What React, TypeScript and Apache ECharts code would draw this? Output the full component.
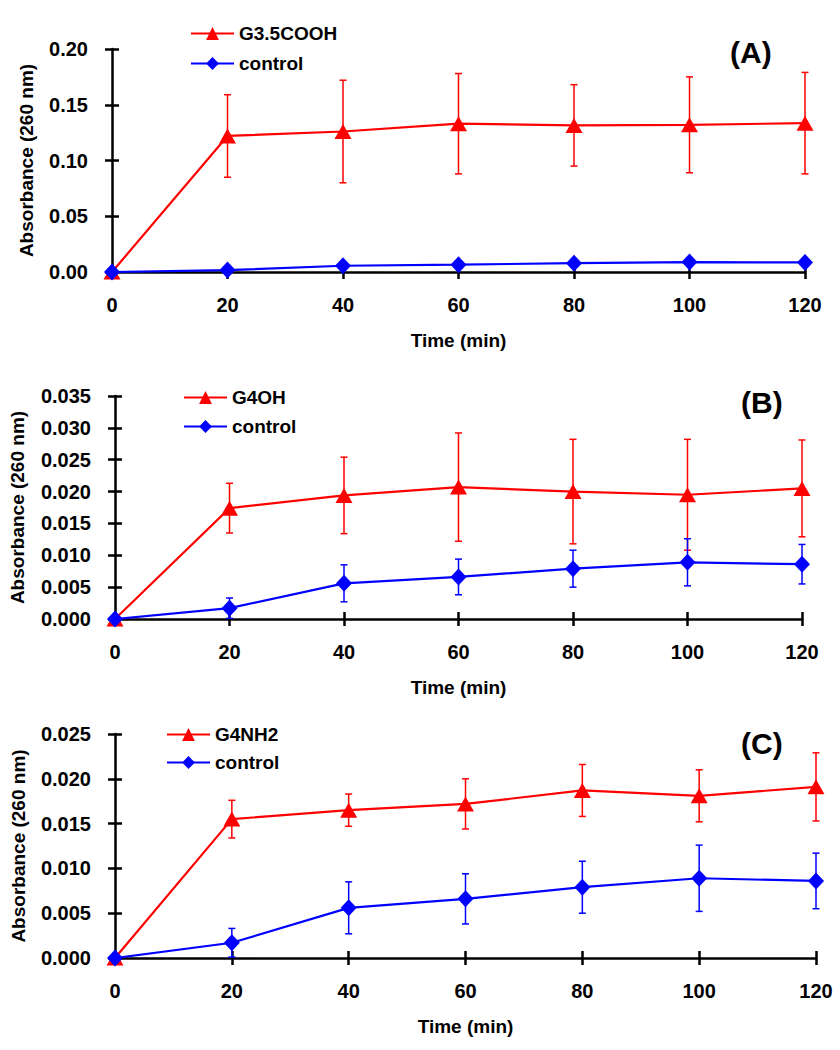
import React, { useEffect, useRef } from "react";
import * as echarts from "echarts";

// ---- data ----
const times = [0, 20, 40, 60, 80, 100, 120];

const g35coohName = "G3.5COOH";
const g35cooh = [0, 0.122, 0.126, 0.133, 0.1315, 0.132, 0.1335];
const g35coohErr = [0, 0.037, 0.046, 0.045, 0.0365, 0.043, 0.0455];

const g4ohName = "G4OH";
const g4oh = [0, 0.0174, 0.0194, 0.0207, 0.02, 0.0195, 0.0205];
const g4ohErr = [0, 0.0039, 0.006, 0.0085, 0.0082, 0.0087, 0.0076];

const g4nh2Name = "G4NH2";
const g4nh2 = [0, 0.0155, 0.0165, 0.0172, 0.0187, 0.0181, 0.0191];
const g4nh2Err = [0, 0.0021, 0.0018, 0.0028, 0.0029, 0.0029, 0.0038];

const controlName = "control";
const control = [0, 0.0017, 0.0056, 0.0066, 0.0079, 0.0089, 0.0086];
const controlErr = [0, 0.0016, 0.0029, 0.0028, 0.0029, 0.0037, 0.0031];

const panelLabels = ["(A)", "(B)", "(C)"];
const yMaxes = [0.2, 0.035, 0.025];
const yIntervals = [0.05, 0.005, 0.005];
const yDecimals = [2, 3, 3];
const xTitle = "Time (min)";
const yTitle = "Absorbance (260 nm)";

// ---- layout / style ----
const FONT = "'Liberation Sans', Arial, sans-serif";
const RED = "#ff0000";
const BLUE = "#0000ff";

const layouts = [
  { left: 112, top: 49, width: 693, height: 223, yNameGap: 76, legendLeft: 190, legendTop: 24, legendGap: 11, labelLeft: 730, labelTop: 37 },
  { left: 115, top: 396, width: 687, height: 223, yNameGap: 88, legendLeft: 183, legendTop: 388, legendGap: 10, labelLeft: 741, labelTop: 387 },
  { left: 115, top: 734, width: 701, height: 224, yNameGap: 87, legendLeft: 166, legendTop: 725, legendGap: 9, labelLeft: 741, labelTop: 728 },
];

const panels = [
  { name: g35coohName, values: g35cooh, errs: g35coohErr },
  { name: g4ohName, values: g4oh, errs: g4ohErr },
  { name: g4nh2Name, values: g4nh2, errs: g4nh2Err },
];

function errorBarSeries(name: string, values: number[], errs: number[], color: string, axisIdx: number) {
  const data = times
    .map((t, i) => [t, values[i] - errs[i], values[i] + errs[i]])
    .filter((_, i) => errs[i] > 0);
  return {
    type: "custom",
    name,
    xAxisIndex: axisIdx,
    yAxisIndex: axisIdx,
    silent: true,
    data,
    renderItem: (params: any, api: any) => {
      const x = api.value(0);
      const lo = api.value(1);
      const hi = api.value(2);
      const top = api.coord([x, hi]);
      const bot = api.coord([x, lo]);
      const w = 3.5;
      const style = { stroke: color, lineWidth: 1.5 };
      return {
        type: "group",
        children: [
          { type: "line", shape: { x1: top[0], y1: top[1], x2: bot[0], y2: bot[1] }, style },
          { type: "line", shape: { x1: top[0] - w, y1: top[1], x2: top[0] + w, y2: top[1] }, style },
          { type: "line", shape: { x1: bot[0] - w, y1: bot[1], x2: bot[0] + w, y2: bot[1] }, style },
        ],
      };
    },
  };
}

function buildOption() {
  const grid: any[] = [];
  const xAxis: any[] = [];
  const yAxis: any[] = [];
  const series: any[] = [];
  const legend: any[] = [];
  const title: any[] = [];

  panels.forEach((p, k) => {
    const L = layouts[k];
    grid.push({ left: L.left, top: L.top, width: L.width, height: L.height });
    const dec = yDecimals[k];
    xAxis.push({
      type: "value",
      gridIndex: k,
      min: 0,
      max: 120,
      interval: 20,
      name: xTitle,
      nameLocation: "middle",
      nameGap: 59,
      nameTextStyle: { fontFamily: FONT, fontSize: 19, fontWeight: "bold", color: "#000" },
      axisLine: { show: true, onZero: false, lineStyle: { color: "#000", width: 2.5 } },
      axisTick: { show: true, length: 7, inside: false, lineStyle: { color: "#000", width: 2.5 } },
      axisLabel: { margin: 23, fontFamily: FONT, fontSize: 20, fontWeight: "bold", color: "#000" },
      splitLine: { show: false },
    });
    yAxis.push({
      type: "value",
      gridIndex: k,
      min: 0,
      max: yMaxes[k],
      interval: yIntervals[k],
      name: yTitle,
      nameLocation: "middle",
      nameGap: L.yNameGap,
      nameRotate: 90,
      nameTextStyle: { fontFamily: FONT, fontSize: 19, fontWeight: "bold", color: "#000" },
      axisLine: { show: true, onZero: false, lineStyle: { color: "#000", width: 2.5 } },
      axisTick: { show: true, length: 7, inside: false, lineStyle: { color: "#000", width: 2.5 } },
      axisLabel: {
        margin: 24,
        fontFamily: FONT,
        fontSize: 20,
        fontWeight: "bold",
        color: "#000",
        formatter: (v: number) => v.toFixed(dec),
      },
      splitLine: { show: false },
    });
  });

  // secondary axes: inward ticks so the ticks cross the axis lines
  panels.forEach((p, k) => {
    xAxis.push({
      type: "value",
      gridIndex: k,
      position: "bottom",
      min: 0,
      max: 120,
      interval: 20,
      axisLine: { show: false, onZero: false },
      axisTick: { show: true, length: 7, inside: true, lineStyle: { color: "#000", width: 2.5 } },
      axisLabel: { show: false },
      splitLine: { show: false },
    });
    yAxis.push({
      type: "value",
      gridIndex: k,
      position: "left",
      min: 0,
      max: yMaxes[k],
      interval: yIntervals[k],
      axisLine: { show: false, onZero: false },
      axisTick: { show: true, length: 7, inside: true, lineStyle: { color: "#000", width: 2.5 } },
      axisLabel: { show: false },
      splitLine: { show: false },
    });
  });

  panels.forEach((p, k) => {
    const L = layouts[k];
    series.push(errorBarSeries(p.name + " SD", p.values, p.errs, RED, k));
    series.push(errorBarSeries(controlName + " SD " + k, control, controlErr, BLUE, k));
    series.push({
      type: "line",
      name: p.name,
      xAxisIndex: k,
      yAxisIndex: k,
      data: times.map((t, i) => [t, p.values[i]]),
      symbol: "triangle",
      symbolSize: [17, 15],
      itemStyle: { color: RED },
      lineStyle: { color: RED, width: 2.2 },
    });
    series.push({
      type: "line",
      name: controlName,
      xAxisIndex: k,
      yAxisIndex: k,
      data: times.map((t, i) => [t, control[i]]),
      symbol: "diamond",
      symbolSize: [16, 17],
      itemStyle: { color: BLUE },
      lineStyle: { color: BLUE, width: 2.2 },
    });
    legend.push({
      data: [p.name, controlName],
      orient: "vertical",
      left: L.legendLeft,
      top: L.legendTop,
      padding: 0,
      itemWidth: 43,
      itemHeight: 16,
      itemGap: L.legendGap,
      selectedMode: false,
      textStyle: { fontFamily: FONT, fontSize: 19, fontWeight: "bold", color: "#000" },
    });
    title.push({
      text: panelLabels[k],
      left: L.labelLeft,
      top: L.labelTop,
      padding: 0,
      textStyle: { fontFamily: FONT, fontSize: 30, fontWeight: "bold", color: "#000" },
    });
  });

  return {
    animation: false,
    backgroundColor: "#fff",
    title,
    legend,
    grid,
    xAxis,
    yAxis,
    series,
  };
}

export default function App() {
  const ref = useRef<HTMLDivElement>(null);
  useEffect(() => {
    if (!ref.current) return;
    const chart = echarts.init(ref.current, undefined, { renderer: "svg" });
    chart.setOption(buildOption() as any);
    return () => chart.dispose();
  }, []);
  return (
    <div
      ref={ref}
      style={{ position: "absolute", left: 0, top: 0, width: 840, height: 1050 }}
    />
  );
}
